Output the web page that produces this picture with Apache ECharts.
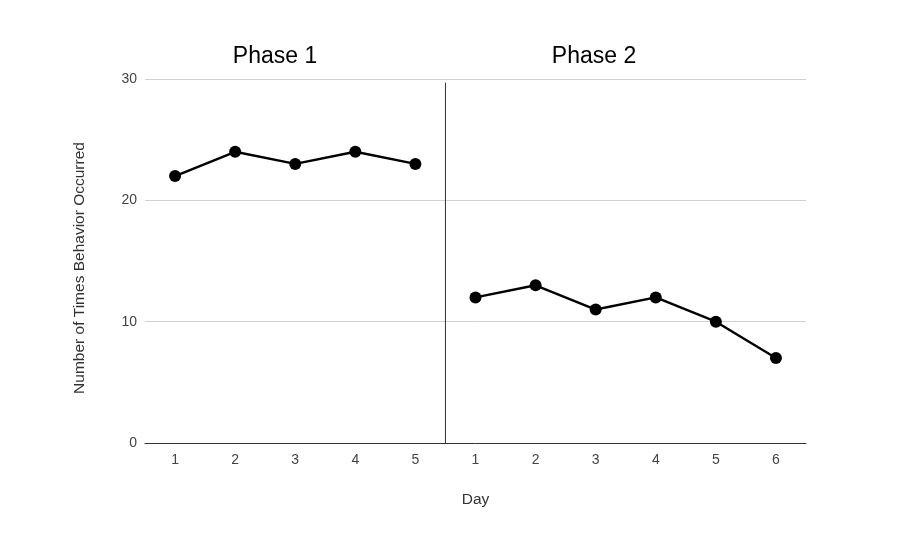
<!DOCTYPE html>
<html><head><meta charset="utf-8">
<script src="https://cdn.jsdelivr.net/npm/echarts@6/dist/echarts.min.js"></script>
<style>html,body{margin:0;padding:0;background:#fff}#c{width:897px;height:534px}</style>
</head><body><div id="c"></div>
<script>
var categories = ['p1d1','p1d2','p1d3','p1d4','p1d5','p2d1','p2d2','p2d3','p2d4','p2d5','p2d6'];
var dayLabels = ['1','2','3','4','5','1','2','3','4','5','6'];
var phase1 = [22,24,23,24,23,null,null,null,null,null,null];
var phase2 = [null,null,null,null,null,12,13,11,12,10,7];
var phaseTitles = ['Phase 1','Phase 2'];
var yTicks = [0,10,20,30];
var dividerX = 4.5;          // between last Phase 1 day and first Phase 2 day (category index)
var dividerY = [0, 29.7];

var chart = echarts.init(document.getElementById('c'));
var font = 'Liberation Sans, Arial, sans-serif';
chart.setOption({
  animation:false,
  backgroundColor:'#fff',
  title:[
    {text:phaseTitles[0], left:270, top:40, textAlign:'center', textStyle:{fontFamily:font,fontSize:23,fontWeight:'normal',color:'#000'}},
    {text:phaseTitles[1], left:589, top:40, textAlign:'center', textStyle:{fontFamily:font,fontSize:23,fontWeight:'normal',color:'#000'}}
  ],
  grid:{left:145,right:91,top:79,bottom:91},
  xAxis:[{
    type:'category', data:categories,
    name:'Day', nameLocation:'middle', nameGap:49,
    nameTextStyle:{fontFamily:font,fontSize:15.5,color:'#333'},
    axisLine:{lineStyle:{color:'#333',width:1}},
    axisTick:{show:false},
    axisLabel:{fontFamily:font,fontSize:14,color:'#444',margin:10,formatter:function(v,i){return dayLabels[i];}},
    splitLine:{show:false}
  },{
    type:'value', min:-0.5, max:categories.length-0.5, show:false
  }],
  yAxis:{
    type:'value', min:yTicks[0], max:yTicks[yTicks.length-1], interval:10,
    name:'Number of Times Behavior Occurred', nameLocation:'middle', nameGap:57,
    nameTextStyle:{fontFamily:font,fontSize:15.5,color:'#333',padding:[0,14,0,0]},
    axisLine:{show:false}, axisTick:{show:false},
    axisLabel:{fontFamily:font,fontSize:14,color:'#444',margin:8},
    splitLine:{lineStyle:{color:'#d0d0d0',width:1}}
  },
  series:[
    {type:'line', xAxisIndex:1, data:[[dividerX,dividerY[1]],[dividerX,dividerY[0]]], symbol:'none', silent:true,
     lineStyle:{color:'#333',width:1}, z:1},
    {type:'line', data:phase1, symbol:'circle', symbolSize:12, connectNulls:false,
     lineStyle:{color:'#000',width:2.4}, itemStyle:{color:'#000'}, z:3},
    {type:'line', data:phase2, symbol:'circle', symbolSize:12, connectNulls:false,
     lineStyle:{color:'#000',width:2.4}, itemStyle:{color:'#000'}, z:3}
  ]
});
</script></body></html>
